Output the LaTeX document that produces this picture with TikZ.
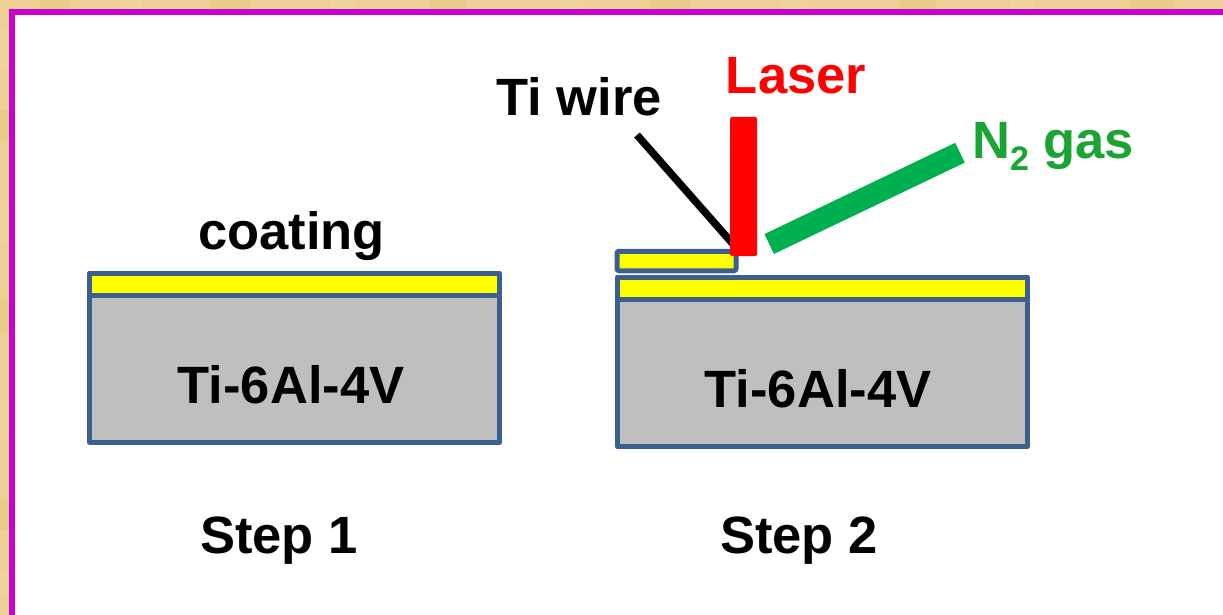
\documentclass[tikz,border=0pt]{standalone}
\usepackage{fontspec}
\setmainfont{Liberation Sans}
\definecolor{bgtan}{HTML}{EBD194}
\definecolor{bgdark}{HTML}{E3C47F}
\definecolor{bglight}{HTML}{F2DDA6}
\definecolor{frame}{HTML}{CC00CC}
\definecolor{edgeblue}{HTML}{3B5F8F}
\definecolor{coatyellow}{HTML}{FFFF00}
\definecolor{subgrey}{HTML}{BFBFBF}
\definecolor{gasgreen}{HTML}{00B050}
\definecolor{gastext}{HTML}{1BA433}
\tikzset{
  x=1pt,y=-1pt,
  lbl/.style={inner sep=0pt,font=\fontsize{52.5}{56}\selectfont\bfseries,anchor=base},
  plate/.style={draw=edgeblue,line width=5pt,line join=round,inner sep=0pt},
  beam/.style={line cap=butt},
}
\begin{document}
\begin{tikzpicture}
\useasboundingbox (0,0) rectangle (1223,615);
\fill[bgtan] (0,0) rectangle (1223,615);
% paper texture of the strip round the frame
\foreach \px/\pw/\pc in {40/30/bgdark,120/22/bglight,210/40/bgdark,330/26/bglight,430/35/bgdark,560/24/bglight,650/40/bgdark,780/28/bglight,900/36/bgdark,1010/24/bglight,1130/45/bgdark}
  \fill[\pc,opacity=.35] (\px,0) rectangle ++(\pw,9);
\foreach \py/\ph/\pc in {30/40/bglight,110/30/bgdark,200/45/bglight,300/35/bgdark,400/40/bglight,500/30/bgdark,570/25/bglight}
  \fill[\pc,opacity=.35] (0,\py) rectangle ++(9,\ph);
% frame and white panel
\fill[white] (12,12) rectangle (1223,615);
\draw[frame,line width=6pt,miter limit=10] (12,615) -- (12,12) -- (1223,12);
% Step 1
\node[plate,fill=subgrey,minimum width=410pt,minimum height=147pt] (sub1) at (294.5,368.5) {};
\node[plate,fill=coatyellow,minimum width=410pt,minimum height=22pt] (coat1) at (294.5,284) {};
\node[lbl] (coatlbl) at (291.5,249.5) {coating};
\node[lbl] (ti1) at (291,403) {Ti-6Al-4V};
\node[lbl] (step1) at (279,553) {Step 1};
% Step 2
\node[plate,fill=subgrey,minimum width=410pt,minimum height=147pt] (sub2) at (822.5,373) {};
\node[plate,fill=coatyellow,minimum width=410pt,minimum height=22pt] (coat2) at (822.5,288) {};
\node[plate,fill=coatyellow,rounded corners=1.5pt,minimum width=119pt,minimum height=19.5pt] (coat3) at (676.5,261) {};
\coordinate (wiretop) at (637,135);
\coordinate (wireend) at (733,244);
\draw[black,line width=7.5pt,beam] (wiretop) -- (wireend);
\node[fill=red,rounded corners=1.5pt,minimum width=27pt,minimum height=139pt,inner sep=0pt] (laser) at (743.5,186.5) {};
\coordinate (gasa) at (769.2,244);
\coordinate (gasb) at (960,152.7);
\draw[gasgreen,line width=22pt,beam] (gasa) -- (gasb);
\node[lbl] (tiwire) at (579,115.5) {Ti wire};
\node[lbl,text=red] (laserlbl) at (796,93.5) {Laser};
\node[lbl,text=gastext,anchor=base west] (gaslbl) at (972,158) {N\raisebox{-13pt}{\fontsize{34}{36}\selectfont 2} gas};
\node[lbl] (ti2) at (818,407) {Ti-6Al-4V};
\node[lbl] (step2) at (799,553) {Step 2};
\end{tikzpicture}
\end{document}
